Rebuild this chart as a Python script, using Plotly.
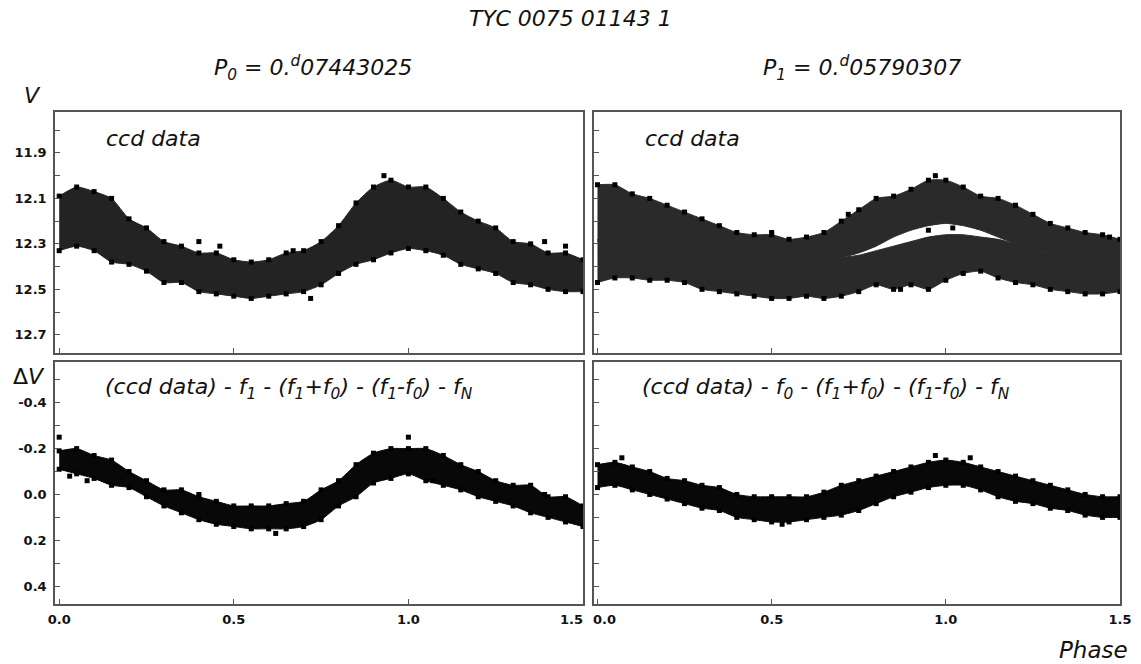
import plotly.graph_objects as go
from plotly.subplots import make_subplots

# phase grid the envelopes were read at
phase = [0.00, 0.05, 0.10, 0.15, 0.20, 0.25, 0.30, 0.35, 0.40, 0.45, 0.50,
         0.55, 0.60, 0.65, 0.70, 0.75, 0.80, 0.85, 0.90, 0.95, 1.00,
         1.05, 1.10, 1.15, 1.20, 1.25, 1.30, 1.35, 1.40, 1.45, 1.50]

# top left: ccd data folded on P0 (bright edge / faint edge of the cloud)
v0_hi = [12.09, 12.05, 12.07, 12.10, 12.19, 12.23, 12.29, 12.31, 12.34, 12.34, 12.37,
         12.38, 12.37, 12.34, 12.33, 12.29, 12.22, 12.12, 12.05, 12.02, 12.05,
         12.05, 12.10, 12.16, 12.20, 12.23, 12.29, 12.30, 12.34, 12.34, 12.37]
v0_lo = [12.33, 12.31, 12.33, 12.38, 12.39, 12.42, 12.47, 12.47, 12.51, 12.52, 12.53,
         12.54, 12.53, 12.52, 12.51, 12.48, 12.43, 12.39, 12.37, 12.34, 12.32,
         12.33, 12.35, 12.39, 12.41, 12.43, 12.47, 12.48, 12.50, 12.51, 12.51]

# top right: ccd data folded on P1, two tracks (a = upper, b = lower)
v1a_hi = [12.04, 12.04, 12.08, 12.10, 12.13, 12.16, 12.19, 12.22, 12.25, 12.26, 12.26,
          12.28, 12.27, 12.25, 12.20, 12.15, 12.10, 12.09, 12.06, 12.02, 12.02,
          12.05, 12.09, 12.10, 12.13, 12.17, 12.21, 12.23, 12.25, 12.26, 12.28]
v1a_lo = [12.29, 12.29, 12.30, 12.31, 12.32, 12.32, 12.33, 12.35, 12.37, 12.38, 12.39,
          12.39, 12.39, 12.37, 12.36, 12.34, 12.31, 12.27, 12.24, 12.22, 12.21,
          12.22, 12.24, 12.27, 12.30, 12.32, 12.34, 12.37, 12.38, 12.39, 12.39]
v1b_hi = [12.28, 12.28, 12.29, 12.29, 12.30, 12.31, 12.32, 12.33, 12.34, 12.35, 12.37,
          12.37, 12.37, 12.37, 12.36, 12.35, 12.33, 12.31, 12.29, 12.27, 12.26,
          12.26, 12.27, 12.28, 12.30, 12.32, 12.34, 12.35, 12.37, 12.37, 12.38]
v1b_lo = [12.47, 12.45, 12.45, 12.46, 12.46, 12.47, 12.50, 12.51, 12.52, 12.53, 12.54,
          12.54, 12.53, 12.54, 12.53, 12.51, 12.48, 12.50, 12.48, 12.50, 12.46,
          12.43, 12.42, 12.45, 12.47, 12.48, 12.50, 12.51, 12.52, 12.52, 12.51]

# bottom left: residuals folded on P0
d0_hi = [-0.19, -0.20, -0.17, -0.15, -0.10, -0.06, -0.02, -0.02, 0.01, 0.03, 0.05,
         0.05, 0.05, 0.04, 0.03, -0.02, -0.06, -0.13, -0.18, -0.20, -0.20,
         -0.20, -0.17, -0.13, -0.10, -0.06, -0.04, -0.04, 0.01, 0.01, 0.05]
d0_lo = [-0.11, -0.09, -0.07, -0.04, -0.03, 0.01, 0.05, 0.08, 0.11, 0.13, 0.14,
         0.15, 0.15, 0.15, 0.14, 0.11, 0.05, 0.01, -0.05, -0.07, -0.09,
         -0.06, -0.04, -0.02, 0.01, 0.03, 0.05, 0.08, 0.10, 0.12, 0.14]

# bottom right: residuals folded on P1
d1_hi = [-0.13, -0.14, -0.12, -0.10, -0.07, -0.06, -0.04, -0.03, 0.00, 0.01, 0.01,
         0.01, 0.01, -0.01, -0.04, -0.06, -0.08, -0.10, -0.12, -0.14, -0.15,
         -0.14, -0.12, -0.10, -0.08, -0.06, -0.04, -0.02, 0.00, 0.01, 0.01]
d1_lo = [-0.03, -0.04, -0.02, 0.00, 0.02, 0.04, 0.06, 0.07, 0.10, 0.11, 0.12,
         0.12, 0.11, 0.10, 0.09, 0.07, 0.04, 0.01, -0.01, -0.03, -0.04,
         -0.04, -0.02, 0.01, 0.03, 0.04, 0.06, 0.07, 0.09, 0.10, 0.10]

# stray points
out0_x = [0.40, 0.46, 0.67, 0.72, 0.93, 1.39, 1.45]
out0_y = [12.29, 12.31, 12.33, 12.54, 12.00, 12.29, 12.31]
out1_x = [0.50, 0.72, 0.87, 0.97, 1.47, 0.95, 1.02]
out1_y = [12.25, 12.17, 12.50, 12.00, 12.27, 12.24, 12.23]
outd0_x = [0.00, 0.03, 0.08, 0.40, 0.62, 1.00, 1.07, 1.39]
outd0_y = [-0.25, -0.08, -0.06, 0.00, 0.17, -0.25, -0.06, 0.00]
outd1_x = [0.07, 0.53, 0.97, 1.07]
outd1_y = [-0.16, 0.13, -0.17, -0.16]

v_ticks = [11.9, 12.1, 12.3, 12.5, 12.7]
dv_ticks = [-0.4, -0.2, 0.0, 0.2, 0.4]
phase_ticks = [0.0, 0.5, 1.0, 1.5]

W, H = 1141, 664
INK = "#000000"
FRAME = "#555555"
TXT = "#111111"

fig = make_subplots(rows=2, cols=2)


def band(hi, lo, row, col, fill, dots_hi=True, dots_lo=True):
    # lower edge first, then the upper edge fills down to it
    for k, (ys, dots) in enumerate([(lo, dots_lo), (hi, dots_hi)]):
        fig.add_trace(go.Scatter(x=phase, y=ys, mode="lines+markers" if dots else "lines",
                                 fill="tonexty" if k else None, fillcolor=fill,
                                 line=dict(color=fill, width=1, shape="spline", smoothing=0.6),
                                 marker=dict(symbol="square", size=5, color=INK),
                                 hoverinfo="skip"), row=row, col=col)


def strays(xs, ys, row, col):
    fig.add_trace(go.Scatter(x=xs, y=ys, mode="markers",
                             marker=dict(symbol="square", size=5, color=INK)),
                  row=row, col=col)


band(v0_hi, v0_lo, 1, 1, "#232323")
strays(out0_x, out0_y, 1, 1)
band(v1a_hi, v1a_lo, 1, 2, "#2a2a2a", dots_lo=False)
band(v1b_hi, v1b_lo, 1, 2, "#2a2a2a", dots_hi=False)
strays(out1_x, out1_y, 1, 2)
band(d0_hi, d0_lo, 2, 1, "#080808")
strays(outd0_x, outd0_y, 2, 1)
band(d1_hi, d1_lo, 2, 2, "#080808")
strays(outd1_x, outd1_y, 2, 2)

# panel placement (pixels -> paper)
xl = [55 / W, 583 / W]
xr = [594 / W, 1120 / W]
yt = [1 - 353 / H, 1 - 112 / H]
yb = [1 - 604 / H, 1 - 362 / H]

tickfont = dict(family="DejaVu Sans", size=13, weight="bold", color=TXT)
axis_common = dict(showline=True, mirror=True, linecolor=FRAME, linewidth=1.5,
                   showgrid=False, zeroline=False, ticks="inside", ticklen=5,
                   tickcolor=FRAME, tickfont=tickfont, automargin=False)

# the touching "1.5" / "0.0" at the panel seam are placed as annotations below
xtext_left = ["0.0", "0.5", "1.0", ""]
xtext_right = ["", "0.5", "1.0", "1.5"]

for r, c, xd, yd in [(1, 1, xl, yt), (1, 2, xr, yt), (2, 1, xl, yb), (2, 2, xr, yb)]:
    xrng = [-0.012, 1.5] if c == 1 else [-0.01, 1.5]
    fig.update_xaxes(domain=xd, range=xrng, tickmode="array", tickvals=phase_ticks,
                     ticktext=xtext_left if c == 1 else xtext_right,
                     showticklabels=(r == 2), ticklabelstandoff=3,
                     row=r, col=c, **axis_common)
    if r == 1:
        fig.update_yaxes(domain=yd, range=[12.78, 11.72], tickmode="array", tickvals=v_ticks,
                         ticktext=["%.1f" % t for t in v_ticks],
                         minor=dict(tickmode="linear", tick0=11.8, dtick=0.2, ticks="inside",
                                    ticklen=5, tickcolor=FRAME),
                         showticklabels=(c == 1), ticklabelstandoff=4,
                         row=r, col=c, **axis_common)
    else:
        fig.update_yaxes(domain=yd, range=[0.478, -0.578], tickmode="array", tickvals=dv_ticks,
                         ticktext=["%.1f" % t for t in dv_ticks],
                         minor=dict(tickmode="linear", tick0=-0.5, dtick=0.2, ticks="inside",
                                    ticklen=5, tickcolor=FRAME),
                         showticklabels=(c == 1), ticklabelstandoff=4,
                         row=r, col=c, **axis_common)

big = dict(family="DejaVu Sans", size=22, color=TXT, style="italic")


def label(text, px, py, xanchor="center", font=big):
    fig.add_annotation(text=text, x=px / W, y=1 - py / H, xref="paper", yref="paper",
                       xanchor=xanchor, yanchor="middle", showarrow=False, font=font)


label("TYC 0075 01143 1", 570, 18)
label("P<sub>0</sub> = 0.<sup>d</sup>07443025", 313, 68)
label("P<sub>1</sub> = 0.<sup>d</sup>05790307", 862, 68)
label("V", 32, 95)
label("Δ<i>V</i>", 29, 376, font=dict(family="DejaVu Sans", size=22, color=TXT))
label("ccd data", 104, 138, xanchor="left")
label("ccd data", 643, 138, xanchor="left")
label("(ccd data) - f<sub>1</sub> - (f<sub>1</sub>+f<sub>0</sub>) - (f<sub>1</sub>-f<sub>0</sub>) - f<sub>N</sub>",
      103, 388, xanchor="left")
label("(ccd data) - f<sub>0</sub> - (f<sub>1</sub>+f<sub>0</sub>) - (f<sub>1</sub>-f<sub>0</sub>) - f<sub>N</sub>",
      640, 388, xanchor="left")
label("1.5", 585, 619, xanchor="right", font=tickfont)
label("0.0", 591, 619, xanchor="left", font=tickfont)
label("Phase", 1093, 650, font=dict(family="DejaVu Sans", size=23, color=TXT, style="italic"))

fig.update_layout(width=W, height=H, margin=dict(l=0, r=0, t=0, b=0),
                  paper_bgcolor="white", plot_bgcolor="white", showlegend=False)

fig.write_html("out.html", config={"displayModeBar": False},
               post_script="document.body.style.margin='0';")
